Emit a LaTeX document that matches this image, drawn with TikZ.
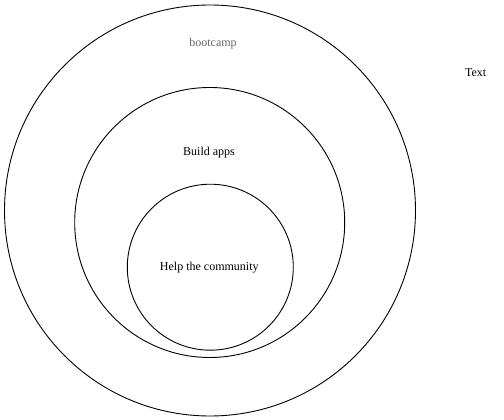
\documentclass[tikz,border=0pt]{standalone}
\usepackage{fontspec}
\setmainfont{Liberation Serif}
\begin{document}
\begin{tikzpicture}[x=1pt,y=-1pt,
  ring/.style={circle,draw=black,line width=0.9pt,inner sep=0pt},
  lbl/.style={font=\fontsize{12}{14}\selectfont,inner sep=0pt}]
\useasboundingbox (0,0) rectangle (504,420);
\node[ring,minimum size=411pt] (outer) at (210,210.5) {};
\node[ring,minimum size=270pt] (middle) at (209.7,222.5) {};
\node[ring,minimum size=166pt] (inner) at (210.3,267.2) {};
\node[lbl,text=black!60] (boot) at (213,43.5) {bootcamp};
\node[lbl] (build) at (209,152.7) {Build apps};
\node[lbl] (help) at (209.3,267.7) {Help the community};
\node[lbl] (txt) at (475.7,72.7) {Text};
\end{tikzpicture}
\end{document}
